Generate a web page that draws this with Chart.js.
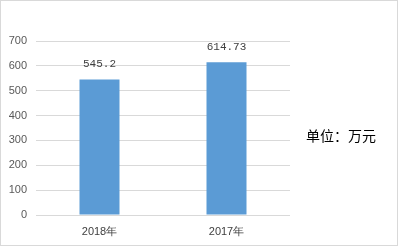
<!DOCTYPE html>
<html><head><meta charset="utf-8">
<script src="https://cdn.jsdelivr.net/npm/chart.js@4/dist/chart.umd.min.js"></script>
<style>html,body{margin:0;padding:0;background:#fff;}#wrap{width:398px;height:246px;position:relative;}</style>
</head><body><div id="wrap"><canvas id="c" width="398" height="246"></canvas></div>
<script>
const categories = ["2018年", "2017年"];
const values = [545.2, 614.73];
const valueLabels = ["545.2", "614.73"];
const yTicks = [0, 100, 200, 300, 400, 500, 600, 700];
const unitText = "单位：万元";

const extras = {
  id: 'extras',
  afterDatasetsDraw(chart) {
    const ctx = chart.ctx;
    const meta = chart.getDatasetMeta(0);
    ctx.save();
    ctx.font = '11px "Liberation Mono", "DejaVu Sans Mono", monospace';
    ctx.fillStyle = '#404040';
    ctx.textAlign = 'center';
    ctx.textBaseline = 'middle';
    meta.data.forEach((bar, i) => {
      ctx.fillText(valueLabels[i], bar.x, bar.y - 15);
    });
    ctx.font = '14px "Noto Sans CJK SC", sans-serif';
    ctx.fillStyle = '#000';
    ctx.textAlign = 'left';
    ctx.fillText(unitText, 306, 136);
    ctx.strokeStyle = '#d9d9d9';
    ctx.lineWidth = 1;
    ctx.strokeRect(0.5, 0.5, 397, 245);
    ctx.restore();
  }
};

new Chart(document.getElementById('c'), {
  type: 'bar',
  data: {
    labels: categories,
    datasets: [{ data: values, backgroundColor: '#5b9bd5', barPercentage: 0.45, categoryPercentage: 0.7 }]
  },
  options: {
    responsive: false,
    animation: false,
    devicePixelRatio: 1,
    layout: { padding: { left: 0, top: 41, right: 108, bottom: 0 } },
    plugins: { legend: { display: false }, tooltip: { enabled: false } },
    scales: {
      x: {
        grid: { display: false, drawTicks: false },
        border: { display: false },
        ticks: { color: '#404040', font: { family: 'Liberation Sans, Arial', size: 11 }, padding: 10 },
        afterFit(s) { s.height = 31; }
      },
      y: {
        min: 0, max: 700,
        afterBuildTicks(s) { s.ticks = yTicks.map(v => ({ value: v })); },
        grid: { color: '#d9d9d9', drawTicks: false },
        border: { display: false },
        ticks: { color: '#595959', font: { family: 'Liberation Sans, Arial', size: 11 }, padding: 9 },
        afterFit(s) { s.width = 36; }
      }
    }
  },
  plugins: [extras]
});
</script></body></html>
